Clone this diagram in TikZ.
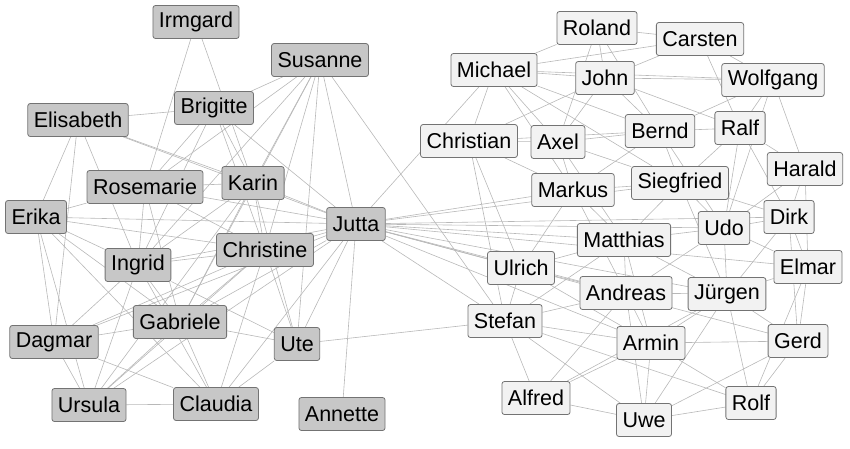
\documentclass[tikz,border=0pt]{standalone}
\usepackage{fontspec}
\setmainfont{Liberation Sans}
\usetikzlibrary{backgrounds}
\begin{document}
\begin{tikzpicture}[x=1pt,y=-1pt,
 nd/.style={draw=black!55,rounded corners=2.5pt,font=\fontsize{21.5}{21.5}\selectfont,inner xsep=6pt,minimum height=33pt,line width=0.8pt},
 lf/.style={nd,fill=black!22},
 rt/.style={nd,fill=black!5},
 ed/.style={draw=black!28,line width=0.6pt}]
\useasboundingbox (0,0) rectangle (850,448);
\node[lf] (irm) at (196,22) {Irmgard};
\node[lf] (sus) at (320,60) {Susanne};
\node[lf] (eli) at (78,120) {Elisabeth};
\node[lf] (bri) at (214,108) {Brigitte};
\node[lf] (ros) at (145,187) {Rosemarie};
\node[lf] (kar) at (253,183) {Karin};
\node[lf] (eri) at (36,217) {Erika};
\node[lf] (jut) at (356,224) {Jutta};
\node[lf] (ing) at (138,265) {Ingrid};
\node[lf] (chr) at (265,250) {Christine};
\node[lf] (gab) at (180,322) {Gabriele};
\node[lf] (dag) at (54,342) {Dagmar};
\node[lf] (ute) at (297,344) {Ute};
\node[lf] (urs) at (89,405) {Ursula};
\node[lf] (cla) at (216,404) {Claudia};
\node[lf] (ann) at (342,414) {Annette};
\node[rt] (rol) at (597,28) {Roland};
\node[rt] (car) at (700,39) {Carsten};
\node[rt] (mic) at (494,70) {Michael};
\node[rt] (joh) at (605,78) {John};
\node[rt] (wol) at (773,80) {Wolfgang};
\node[rt] (cht) at (469,141) {Christian};
\node[rt] (axe) at (558,142) {Axel};
\node[rt] (ber) at (660,131) {Bernd};
\node[rt] (ral) at (740,128) {Ralf};
\node[rt] (har) at (805,169) {Harald};
\node[rt] (mar) at (573,190) {Markus};
\node[rt] (sie) at (680,183) {Siegfried};
\node[rt] (dir) at (789,217) {Dirk};
\node[rt] (udo) at (724,228) {Udo};
\node[rt] (mat) at (624,240) {Matthias};
\node[rt] (elm) at (808,267) {Elmar};
\node[rt] (ulr) at (521,268) {Ulrich};
\node[rt] (and) at (626,293) {Andreas};
\node[rt] (jur) at (727,294) {Jürgen};
\node[rt] (ste) at (505,321) {Stefan};
\node[rt] (arm) at (651,343) {Armin};
\node[rt] (ger) at (798,341) {Gerd};
\node[rt] (alf) at (536,398) {Alfred};
\node[rt] (rof) at (751,403) {Rolf};
\node[rt] (uwe) at (644,420) {Uwe};
\begin{scope}[on background layer]
\foreach \a/\b in {irm/kar,irm/ros,sus/bri,sus/kar,sus/chr,sus/ing,sus/gab,sus/ute,sus/jut,sus/ste,sus/ros,eli/bri,eli/kar,eli/eri,eli/ing,eli/dag,eli/jut,bri/ros,bri/kar,bri/chr,bri/jut,bri/ing,ros/kar,ros/eri,ros/ing,ros/chr,ros/jut,ros/gab,kar/chr,kar/jut,kar/ing,kar/ute,kar/gab,kar/urs,eri/ing,eri/dag,eri/gab,eri/urs,eri/chr,eri/jut,eri/cla,ing/chr,ing/gab,ing/dag,ing/urs,ing/cla,ing/jut,ing/ute,chr/jut,chr/gab,chr/ute,chr/cla,chr/dag,chr/urs,gab/dag,gab/urs,gab/cla,gab/ute,gab/jut,dag/urs,dag/cla,dag/jut,ute/cla,ute/jut,urs/cla,urs/jut,cla/jut,ann/jut,ute/ste,
jut/mar,jut/sie,jut/udo,jut/mat,jut/dir,jut/elm,jut/ulr,jut/and,jut/jur,jut/ste,jut/arm,jut/ger,jut/mic,
rol/mic,rol/joh,rol/car,rol/ber,rol/axe,car/wol,car/ral,car/joh,car/mic,mic/joh,mic/cht,mic/axe,mic/ber,mic/mar,mic/sie,mic/wol,joh/axe,joh/ber,joh/ral,joh/wol,joh/cht,wol/ral,wol/ber,wol/har,wol/udo,cht/axe,cht/mar,cht/ulr,cht/ber,cht/ste,axe/ber,axe/mar,axe/sie,axe/mat,ber/ral,ber/sie,ber/udo,ber/mar,ral/har,ral/sie,ral/udo,ral/dir,har/dir,har/elm,har/udo,mar/sie,mar/mat,mar/ulr,mar/and,sie/udo,sie/mat,sie/dir,sie/jur,dir/udo,dir/elm,dir/jur,dir/ger,udo/mat,udo/jur,udo/elm,udo/and,mat/and,mat/ulr,mat/jur,mat/arm,mat/ste,elm/jur,elm/ger,elm/rof,ulr/and,ulr/ste,ulr/arm,and/jur,and/arm,and/ste,and/uwe,jur/arm,jur/ger,jur/rof,jur/uwe,ste/arm,ste/alf,ste/uwe,ste/rof,arm/ger,arm/alf,arm/uwe,arm/rof,ger/rof,ger/uwe,alf/uwe,alf/and,uwe/rof,alf/jur}
{\path[ed] (\a) -- (\b);}
\end{scope}
\end{tikzpicture}
\end{document}
